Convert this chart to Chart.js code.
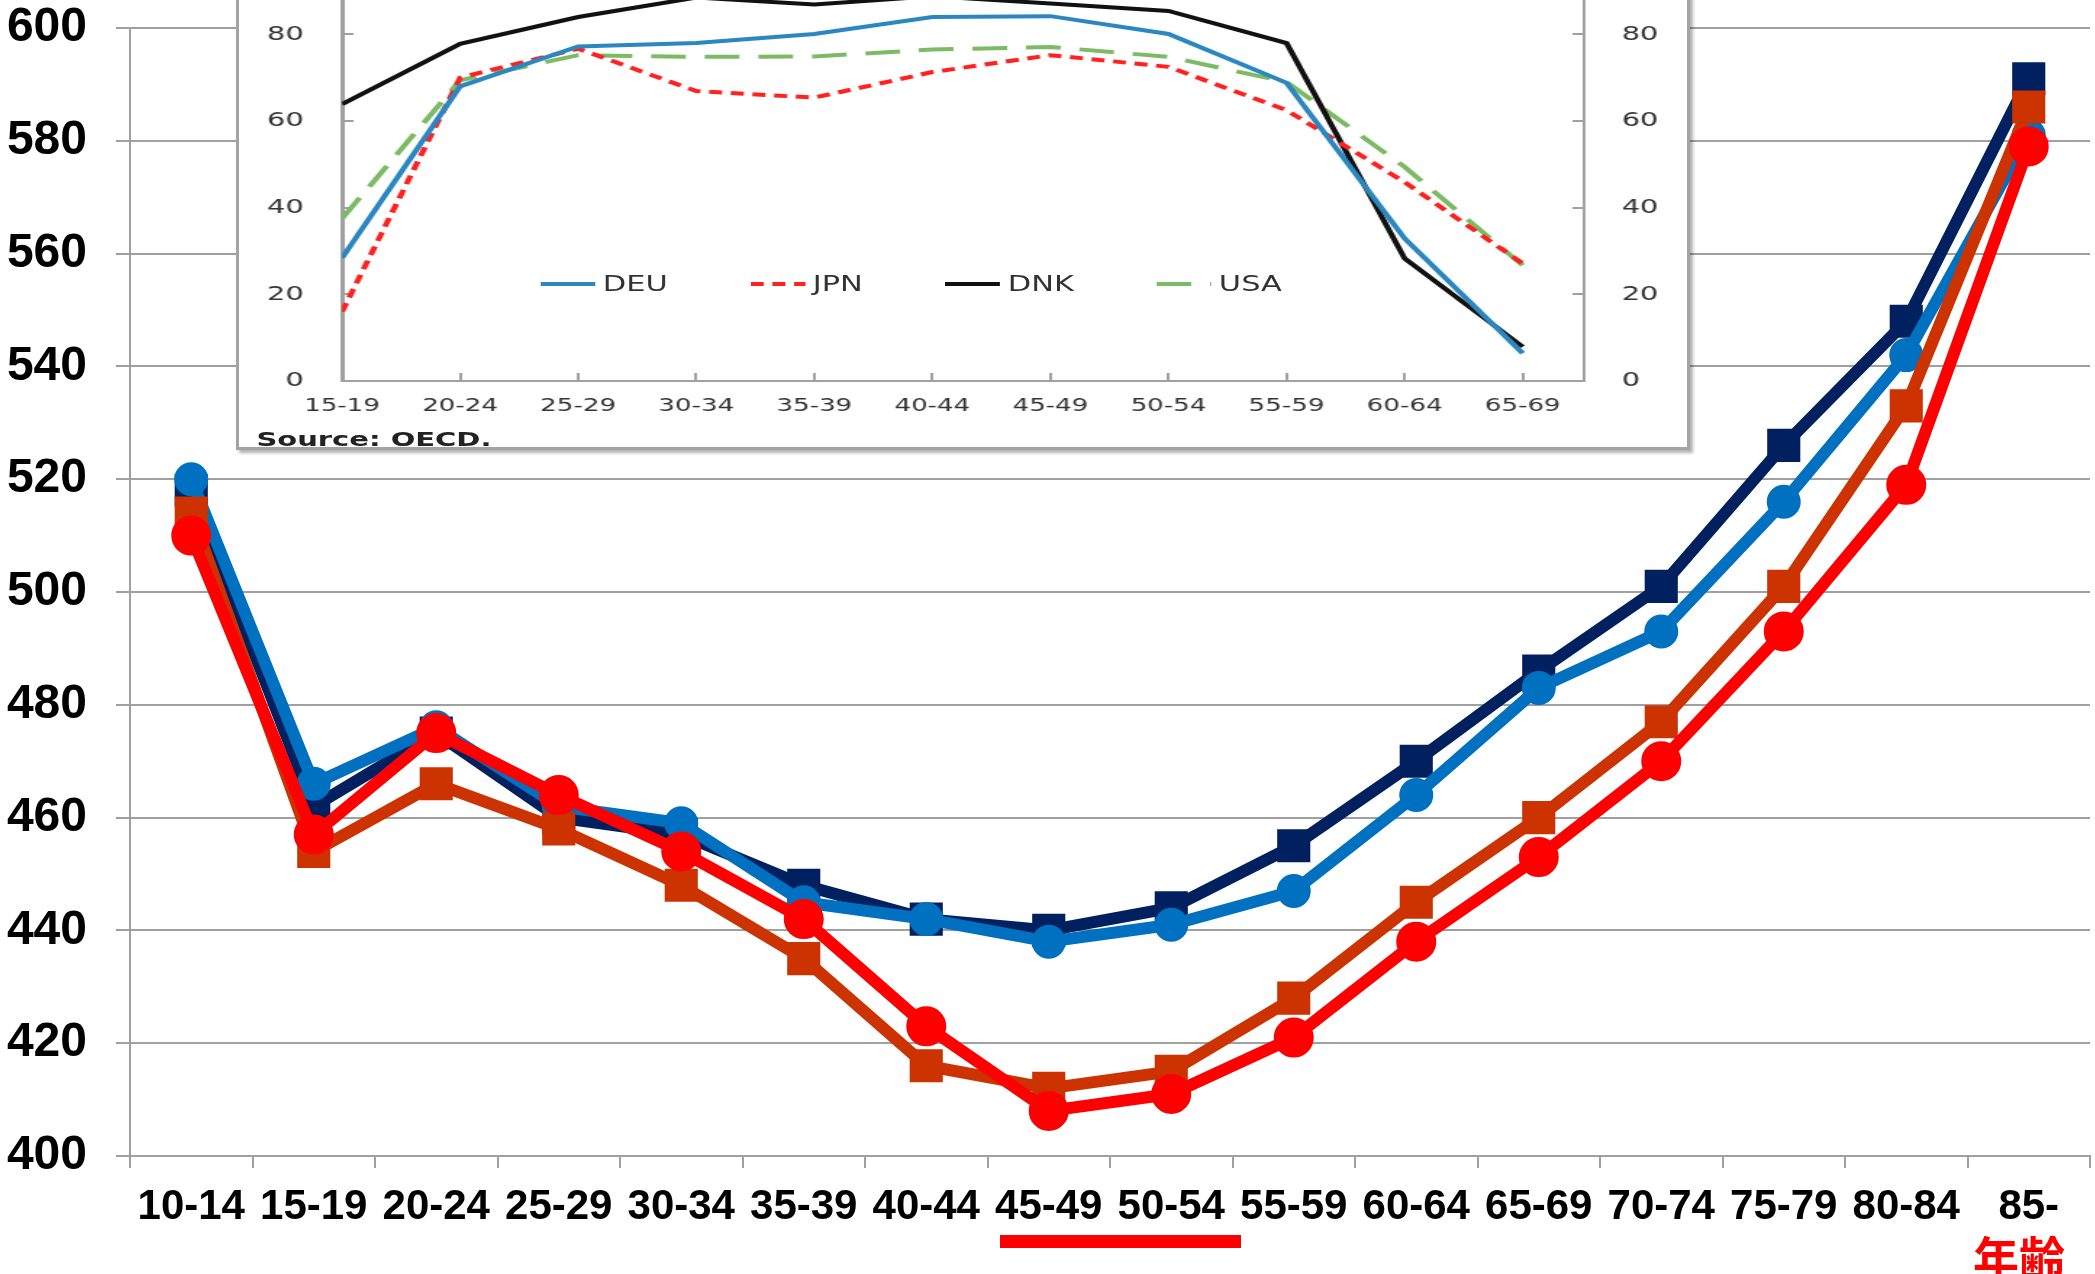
<!DOCTYPE html>
<html>
<head>
<meta charset="utf-8">
<script src="https://cdn.jsdelivr.net/npm/chart.js@4.4.1/dist/chart.umd.min.js"></script>
<style>
  html, body { margin: 0; padding: 0; background: #fff; }
  body { width: 2095px; height: 1274px; overflow: hidden; position: relative; }
  #mainChart { position: absolute; left: 0; top: 0; }
  #insetBox {
    position: absolute; left: 236px; top: -80px; width: 1448px; height: 524px;
    border: 3px solid #a3a3a3; background: #fff; z-index: 2;
    box-shadow: 3px 3px 3px rgba(0, 0, 0, 0.3);
  }
  /* the pasted OECD picture is stretched sideways, so the inner part is too */
  #insetInner {
    position: absolute; left: 0; top: 0; width: 999px; height: 524px;
    transform: scaleX(1.4494); transform-origin: 0 0; overflow: hidden;
  }
  #insetChart { position: absolute; left: 0; top: 0; }
  #insetLegend {
    position: absolute; left: 208px; top: 349px; height: 24px;
    display: flex; gap: 57px; font-family: "DejaVu Sans", sans-serif; font-size: 21px; color: #333;
  }
  #insetLegend .item { display: flex; align-items: center; height: 24px; }
  #insetLegend span { margin-left: 5px; line-height: 24px; }
  #insetSource {
    position: absolute; left: 12px; top: 506px; line-height: 20px;
    font-family: "DejaVu Sans", sans-serif; font-weight: bold; font-size: 20px; color: #222;
  }
  #rangeMark { position: absolute; left: 1000px; top: 1235px; width: 241px; height: 13px; background: #ff0000; }
  #ageLabel {
    position: absolute; left: 1973px; top: 1232px; line-height: 46px;
    font-family: "Noto Sans CJK JP", sans-serif; font-weight: 700; font-size: 46px; color: #ff0000;
  }
</style>
</head>
<body>
<canvas id="mainChart" width="2095" height="1274"></canvas>
<div id="insetBox">
  <div id="insetInner">
    <canvas id="insetChart" width="999" height="524"></canvas>
    <div id="insetLegend"></div>
    <div id="insetSource">Source: OECD.</div>
  </div>
</div>
<div id="rangeMark"></div>
<div id="ageLabel">年齢</div>
<script>
// main chart: scores by age group
const ageGroups = ['10-14', '15-19', '20-24', '25-29', '30-34', '35-39', '40-44', '45-49',
                   '50-54', '55-59', '60-64', '65-69', '70-74', '75-79', '80-84', '85-'];
const navyValues   = [518, 462, 475, 460, 457, 448, 442, 440, 444, 455, 470, 486, 501, 526, 548, 591];
const blueValues   = [520, 466, 476, 462, 459, 445, 442, 438, 441, 447, 464, 483, 493, 516, 542, 581];
const orangeValues = [514, 454, 466, 458, 448, 435, 416, 412, 415, 428, 445, 460, 477, 501, 533, 586];
const redValues    = [510, 457, 475, 464, 454, 442, 423, 408, 411, 421, 438, 453, 470, 493, 519, 579];
const mainYTicks = [400, 420, 440, 460, 480, 500, 520, 540, 560, 580, 600];

// inset (OECD) chart: employment rate by age group
const insetAges = ['15-19', '20-24', '25-29', '30-34', '35-39', '40-44', '45-49', '50-54', '55-59', '60-64', '65-69'];
const deuRates = [28.4, 68.0, 77.2, 78.0, 80.1, 84.0, 84.2, 80.1, 68.8, 32.9, 6.4];
const jpnRates = [16.0, 70.0, 76.7, 66.9, 65.4, 71.3, 75.2, 72.5, 62.5, 45.9, 27.1];
const dnkRates = [63.9, 77.8, 84.0, 88.5, 86.9, 88.8, 87.1, 85.4, 78.0, 28.3, 7.9];
const usaRates = [37.5, 69.4, 75.2, 74.8, 74.9, 76.5, 77.1, 74.8, 69.0, 49.4, 26.7];
const insetYTicks = [0, 20, 40, 60, 80, 100];
const insetNames = ['DEU', 'JPN', 'DNK', 'USA'];

const axisGray = '#a0a0a0';
const boldFont = '"Liberation Sans", Arial, sans-serif';
const insetFont = '"DejaVu Sans", Verdana, sans-serif';

// keep label overhang from pushing the plot area around
function noLabelPadding(s) {
    s.paddingTop = 0;
    s.paddingBottom = 0;
    s.paddingLeft = 0;
    s.paddingRight = 0;
}

function mainSeries(data, color, style, radius, order) {
    return {
        data: data,
        borderColor: color,
        backgroundColor: color,
        borderWidth: 12,
        borderJoinStyle: 'round',
        borderCapStyle: 'round',
        pointStyle: style,
        pointRadius: radius,
        pointBorderWidth: 2,
        tension: 0,
        order: order
    };
}

new Chart(document.getElementById('mainChart'), {
    type: 'line',
    data: {
        labels: ageGroups,
        datasets: [
            mainSeries(navyValues, '#002060', 'rect', 22, 4),
            mainSeries(blueValues, '#0070c0', 'circle', 16, 3),
            mainSeries(orangeValues, '#cc3300', 'rect', 22, 2),
            mainSeries(redValues, '#ff0000', 'circle', 19, 1)
        ]
    },
    options: {
        responsive: false,
        animation: false,
        devicePixelRatio: 1,
        layout: { autoPadding: false, padding: { top: 28, right: 5, left: 0, bottom: 0 } },
        plugins: { legend: { display: false }, tooltip: { enabled: false } },
        scales: {
            x: {
                offset: true,
                grid: { offset: true, drawOnChartArea: false, color: axisGray, lineWidth: 2, tickLength: 12 },
                border: { color: axisGray, width: 2 },
                ticks: { color: '#000', font: { family: boldFont, size: 42, weight: 'bold' }, padding: 14, maxRotation: 0, autoSkip: false },
                afterFit: function (s) { s.height = 118; noLabelPadding(s); }
            },
            y: {
                min: 400,
                max: 600,
                afterBuildTicks: function (s) { s.ticks = mainYTicks.map(v => ({ value: v })); },
                grid: { color: axisGray, lineWidth: 2, tickLength: 14 },
                border: { color: axisGray, width: 2 },
                ticks: { color: '#000', font: { family: boldFont, size: 48, weight: 'bold' }, padding: 29 },
                afterFit: function (s) { s.width = 130; noLabelPadding(s); }
            }
        }
    }
});

// inset lines
const insetStyles = [
    { color: '#2b87c0', dash: [] },
    { color: '#ff2020', dash: [9, 6] },
    { color: '#111111', dash: [] },
    { color: '#7cbb64', dash: [24, 13] }
];
const insetValues = [deuRates, jpnRates, dnkRates, usaRates];

const insetDatasets = insetValues.map(function (vals, k) {
    return {
        label: insetNames[k],
        data: vals.map((v, i) => ({ x: i, y: v })),
        borderColor: insetStyles[k].color,
        borderDash: insetStyles[k].dash,
        borderWidth: 4,
        pointRadius: 0,
        tension: 0,
        yAxisID: 'y'
    };
});

const insetTickFont = { family: insetFont, size: 20 };

new Chart(document.getElementById('insetChart'), {
    type: 'line',
    data: { datasets: insetDatasets },
    options: {
        responsive: false,
        animation: false,
        devicePixelRatio: 1,
        layout: { autoPadding: false, padding: { top: 24.7, right: 0, left: 0, bottom: 0 } },
        plugins: { legend: { display: false }, tooltip: { enabled: false } },
        scales: {
            x: {
                type: 'linear',
                min: 0,
                max: insetAges.length - 1 + 0.52,
                afterBuildTicks: function (s) { s.ticks = insetAges.map((_, i) => ({ value: i })); },
                grid: { drawOnChartArea: false, color: axisGray, lineWidth: 2, tickLength: -8 },
                border: { color: axisGray, width: 2 },
                ticks: { color: '#333', font: { family: insetFont, size: 18 }, padding: 23, maxRotation: 0, autoSkip: false,
                         callback: function (v) { return insetAges[v]; } },
                afterFit: function (s) { s.height = 66; noLabelPadding(s); }
            },
            y: {
                position: 'left',
                min: 0,
                max: 100,
                afterBuildTicks: function (s) { s.ticks = insetYTicks.map(v => ({ value: v })); },
                grid: { drawOnChartArea: false, color: axisGray, lineWidth: 2, tickLength: -8 },
                border: { color: axisGray, width: 3 },
                ticks: { color: '#333', font: insetTickFont, padding: 34.3 },
                afterFit: function (s) { s.width = 71.1; noLabelPadding(s); }
            },
            y2: {
                position: 'right',
                min: 0,
                max: 100,
                afterBuildTicks: function (s) { s.ticks = insetYTicks.map(v => ({ value: v })); },
                grid: { drawOnChartArea: false, color: axisGray, lineWidth: 2, tickLength: -8 },
                border: { color: axisGray, width: 2 },
                ticks: { color: '#333', font: insetTickFont, padding: 33.9 },
                afterFit: function (s) { s.width = 71; noLabelPadding(s); }
            }
        }
    }
});

// inset legend (sits inside the plot area, as in the OECD picture)
const legendBox = document.getElementById('insetLegend');
insetNames.forEach(function (name, k) {
    const item = document.createElement('div');
    item.className = 'item';
    const dash = insetStyles[k].dash.length ? insetStyles[k].dash.join(',') : 'none';
    item.innerHTML = '<svg width="38" height="24"><line x1="0" y1="12" x2="38" y2="12" stroke="' +
        insetStyles[k].color + '" stroke-width="4" stroke-dasharray="' + dash + '"/></svg><span>' + name + '</span>';
    legendBox.appendChild(item);
});
</script>
</body>
</html>
